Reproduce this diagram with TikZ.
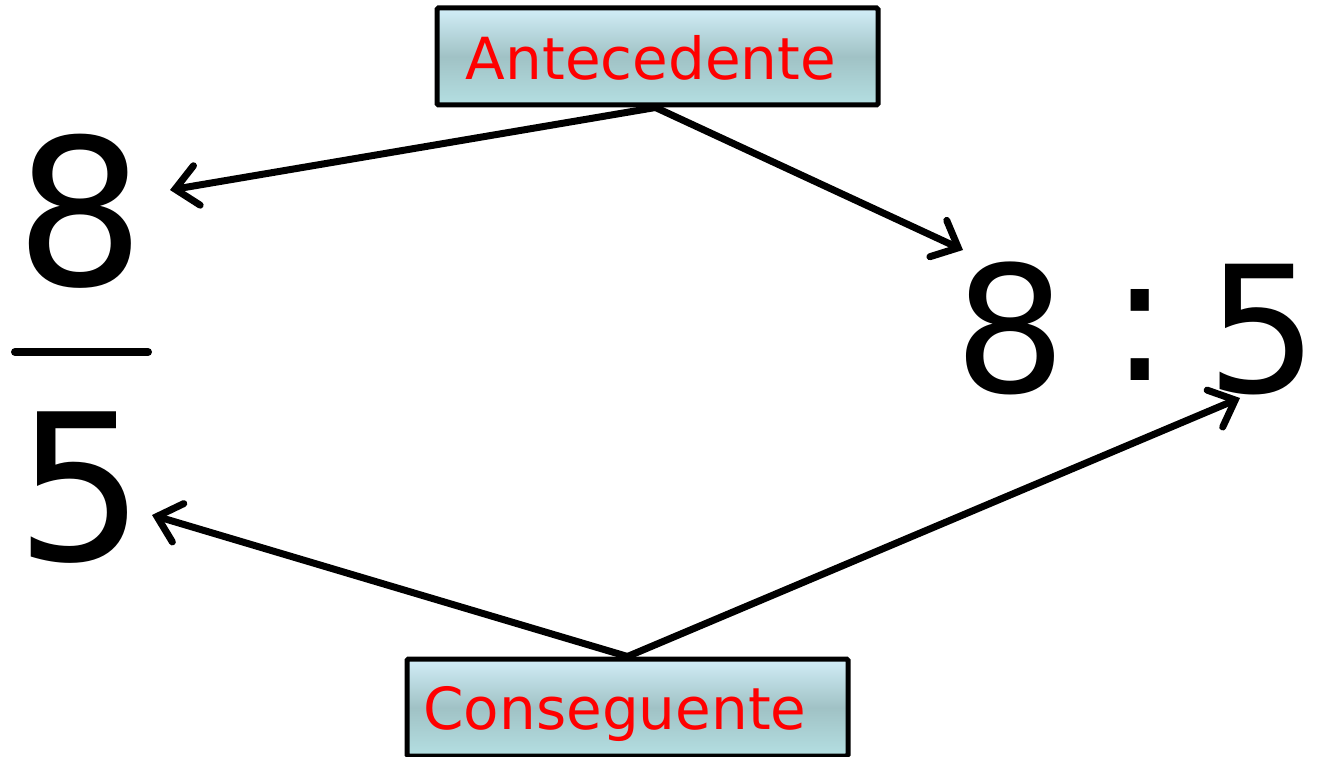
\documentclass[tikz,border=0pt]{standalone}
\usepackage{fontspec}
\setmainfont{DejaVu Sans}
\usetikzlibrary{arrows.meta}
\definecolor{boxtop}{HTML}{D2EEF8}
\definecolor{boxmid}{HTML}{A0C2C5}
\definecolor{boxbot}{HTML}{B4DFE2}
\definecolor{labred}{HTML}{FF0000}
\tikzset{
  lbox/.style={draw=black, line width=5pt, rounded corners=1.5pt, minimum width=441pt, minimum height=97pt,
    top color=boxtop, bottom color=boxbot, middle color=boxmid, inner sep=0pt},
  lbl/.style={text=labred, font=\fontsize{58}{58}\selectfont, inner sep=0pt, anchor=base},
  bigdig/.style={font=\fontsize{204}{204}\selectfont, inner sep=0pt, anchor=base},
  ratdig/.style={font=\fontsize{176}{176}\selectfont, inner sep=0pt, anchor=base},
  arr/.style={line width=7pt, line cap=round, line join=round, -{Straight Barb[length=22pt,width=40pt,line cap=round]}}
}
\begin{document}
\begin{tikzpicture}[x=1pt,y=-1pt]
\useasboundingbox (0,0) rectangle (1320,757);
% boxes
\node[lbox] (antebox) at (657.5,56.5) {};
\node[lbl] (ante) at (651,80) {Antecedente};
\node[lbox] (consbox) at (627.5,707.5) {};
\node[lbl] (cons) at (615,729) {Conseguente};
% fraction
\node[bigdig] (fnum) at (80,285) {8};
\node[bigdig] (fden) at (80,560) {5};
\coordinate (barl) at (15,352);
\coordinate (barr) at (148,352);
\draw[line width=8pt, line cap=round] (barl) -- (barr);
% ratio
\node[ratdig] (rnum) at (1010,392) {8};
\node[ratdig] (rcol) at (1140,380) {:};
\node[ratdig] (rden) at (1262,392) {5};
% arrow ends
\coordinate (e1) at (170,190);
\coordinate (e2) at (963,250);
\coordinate (e3) at (152,515);
\coordinate (e4) at (1240,398);
\draw[arr] (antebox.south) ++(-2,0) -- (e1);
\draw[arr] (antebox.south) ++(-2,0) -- (e2);
\draw[arr] (consbox.north) -- (e3);
\draw[arr] (consbox.north) -- (e4);
\end{tikzpicture}
\end{document}
